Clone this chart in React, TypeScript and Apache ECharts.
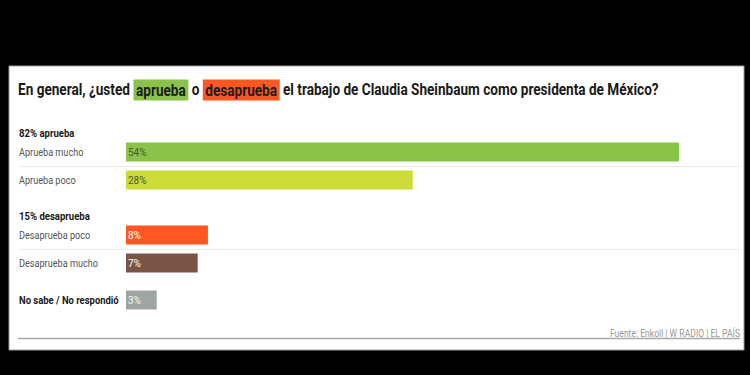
import React, { useEffect, useRef } from "react";
import * as echarts from "echarts";

const titleText =
  "En general, ¿usted {g|aprueba} o {o|desaprueba} el trabajo de Claudia Sheinbaum como presidenta de México?";
const groupHeaders = ["82% aprueba", "15% desaprueba"];
const approveCats = ["Aprueba mucho", "Aprueba poco"];
const approveVals = [54, 28];
const disapproveCats = ["Desaprueba poco", "Desaprueba mucho"];
const disapproveVals = [8, 7];
const unknownCats = ["No sabe / No respondió"];
const unknownVals = [3];
const approveColors = ["#8bc34a", "#cddc39"];
const disapproveColors = ["#ff5722", "#795548"];
const unknownColors = ["#9ea6a2"];
const sourceText = "Fuente: Enkoll | W RADIO | EL PAÍS";

const FONT = "Roboto, 'Liberation Sans', sans-serif";

export default function App() {
  const ref = useRef<HTMLDivElement>(null);
  useEffect(() => {
    if (!ref.current) return;
    const chart = echarts.init(ref.current, null, { renderer: "svg" });
    const grids = [
      { left: 126, width: 553, top: 138, height: 56 },
      { left: 126, width: 553, top: 221, height: 56 },
      { left: 126, width: 553, top: 286, height: 28 },
    ];
    const groups = [
      { cats: approveCats, vals: approveVals, colors: approveColors, labelColor: "#4a5a2a", bold: false },
      { cats: disapproveCats, vals: disapproveVals, colors: disapproveColors, labelColor: "#ffffff", bold: false },
      { cats: unknownCats, vals: unknownVals, colors: unknownColors, labelColor: "#f4f4f4", bold: true },
    ];
    const option: any = {
      animation: false,
      backgroundColor: "#000000",
      grid: grids,
      xAxis: groups.map((_, i) => ({
        type: "value",
        gridIndex: i,
        min: 0,
        max: 54,
        show: false,
      })),
      yAxis: groups.map((g, i) => ({
        type: "category",
        gridIndex: i,
        data: g.cats,
        inverse: true,
        axisLine: { show: false },
        axisTick: { show: false },
        splitLine: { show: false },
        axisLabel: { show: false },
      })),
      series: groups.map((g, i) => ({
        type: "bar",
        xAxisIndex: i,
        yAxisIndex: i,
        barWidth: 19,
        data: g.vals.map((v, j) => ({ value: v, itemStyle: { color: g.colors[j] } })),
        label: {
          show: true,
          position: "insideLeft",
          offset: [-3, 0],
          formatter: "{c}%",
          fontSize: 10,
          fontFamily: FONT,
          color: g.labelColor,
        },
      })),
      graphic: [
        {
          type: "rect",
          z: -10,
          shape: { x: 9, y: 66, width: 735, height: 284 },
          style: { fill: "#ffffff", stroke: "#9a9a9a", lineWidth: 1 },
        },
        {
          type: "text",
          x: 18,
          y: 90,
          scaleX: 0.85,
          style: {
            text: titleText,
            verticalAlign: "middle",
            fontSize: 16,
            fontWeight: "bold",
            fontFamily: FONT,
            fill: "#1a1a1a",
            rich: {
              g: {
                backgroundColor: "#8bc34a",
                padding: [3, 3, 2, 3],
                fontSize: 16,
                fontWeight: "bold",
                fontFamily: FONT,
                color: "#1a1a1a",
              },
              o: {
                backgroundColor: "#ff5722",
                padding: [3, 3, 2, 3],
                fontSize: 16,
                fontWeight: "bold",
                fontFamily: FONT,
                color: "#1a1a1a",
              },
            },
          },
        },
        ...groupHeaders.map((h, i) => ({
          type: "text",
          x: 19,
          y: i === 0 ? 133 : 216,
          scaleX: 0.87,
          style: {
            text: h,
            verticalAlign: "middle",
            fontSize: 11,
            fontWeight: "bold",
            fontFamily: FONT,
            fill: "#1a1a1a",
          },
        })),
        {
          type: "line",
          shape: { x1: 18, y1: 166.5, x2: 740, y2: 166.5 },
          style: { stroke: "#ebebeb", lineWidth: 1 },
        },
        {
          type: "line",
          shape: { x1: 18, y1: 249.5, x2: 740, y2: 249.5 },
          style: { stroke: "#ebebeb", lineWidth: 1 },
        },
        {
          type: "line",
          shape: { x1: 18, y1: 338.5, x2: 740, y2: 338.5 },
          style: { stroke: "#aaaaaa", lineWidth: 1.5 },
        },
        {
          type: "text",
          x: 740,
          y: 333,
          scaleX: 0.86,
          style: {
            text: sourceText,
            align: "right",
            verticalAlign: "middle",
            fontSize: 10,
            fontFamily: FONT,
            fill: "#999999",
          },
        },
      ],
    };
    chart.setOption(option);

    // Row labels placed from the category axes' own pixel positions
    const labelGraphics: any[] = [];
    groups.forEach((g, i) => {
      g.cats.forEach((c) => {
        const py = chart.convertToPixel({ yAxisIndex: i } as any, c) as number;
        labelGraphics.push({
          type: "text",
          x: 19,
          y: py,
          scaleX: g.bold ? 0.86 : 0.83,
          style: {
            text: c,
            verticalAlign: "middle",
            fontSize: 11,
            fontWeight: g.bold ? "bold" : "normal",
            fontFamily: FONT,
            fill: g.bold ? "#1a1a1a" : "#555555",
          },
        });
      });
    });
    chart.setOption({ graphic: [...option.graphic, ...labelGraphics] });
    return () => chart.dispose();
  }, []);
  return (
    <div
      ref={ref}
      style={{ position: "fixed", left: 0, top: 0, width: 750, height: 375 }}
    />
  );
}
